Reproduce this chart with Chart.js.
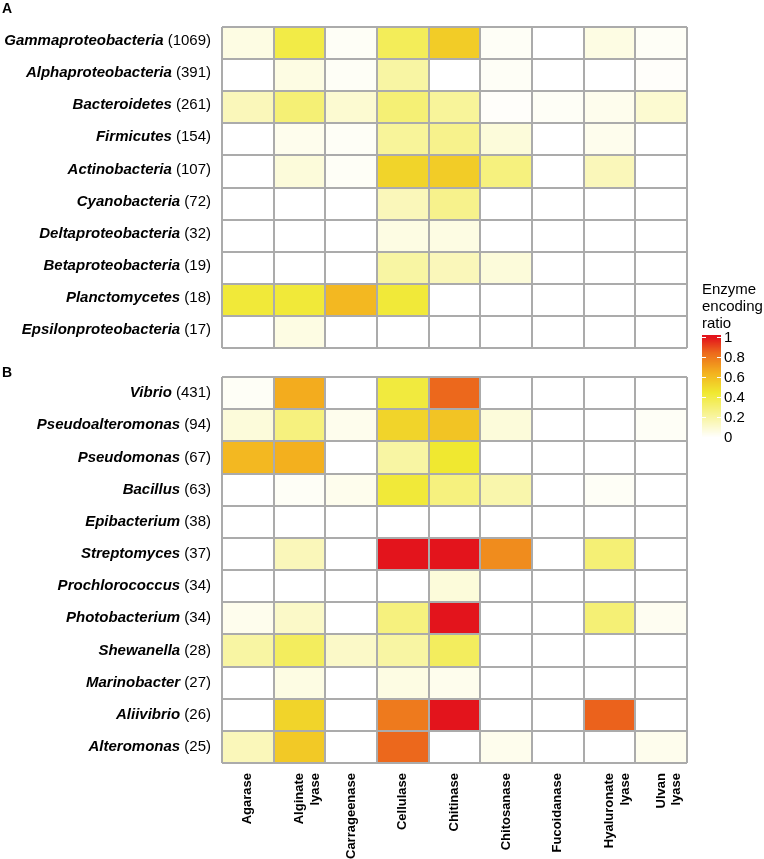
<!DOCTYPE html>
<html>
<head>
<meta charset="utf-8">
<script src="https://cdn.jsdelivr.net/npm/chart.js@4.4.1/dist/chart.umd.min.js"></script>
<style>
  body { margin: 0; background: #fff; }
  #wrap { position: relative; width: 764px; height: 859px; }
  canvas { position: absolute; left: 0; }
  #chartA { top: 0; }
  #chartB { top: 250px; }
</style>
</head>
<body>
<div id="wrap">
  <canvas id="chartB" width="764" height="609"></canvas>
  <canvas id="chartA" width="764" height="360"></canvas>
</div>
<script>
// enzyme columns (same for both panels)
var enzymes = ["Agarase", ["Alginate", "lyase"], "Carrageenase", "Cellulase", "Chitinase",
  "Chitosanase", "Fucoidanase", ["Hyaluronate", "lyase"], ["Ulvan", "lyase"]];

// panel A: phyla / classes
var phyla = ["Gammaproteobacteria", "Alphaproteobacteria", "Bacteroidetes", "Firmicutes",
  "Actinobacteria", "Cyanobacteria", "Deltaproteobacteria", "Betaproteobacteria",
  "Planctomycetes", "Epsilonproteobacteria"];
var phylaCounts = [1069, 391, 261, 154, 107, 72, 32, 19, 18, 17];
var phylaRatios = [
  [0.06, 0.40, 0.02, 0.36, 0.55, 0.02, 0, 0.06, 0.02],
  [0, 0.06, 0.02, 0.20, 0, 0.02, 0, 0, 0.01],
  [0.15, 0.30, 0.10, 0.30, 0.22, 0.01, 0.02, 0.04, 0.10],
  [0, 0.04, 0.02, 0.22, 0.25, 0.08, 0, 0.04, 0],
  [0, 0.08, 0.02, 0.52, 0.55, 0.28, 0, 0.15, 0],
  [0, 0, 0, 0.15, 0.25, 0, 0, 0, 0],
  [0, 0, 0, 0.06, 0.06, 0, 0, 0, 0],
  [0, 0, 0, 0.20, 0.15, 0.08, 0, 0, 0],
  [0.43, 0.43, 0.62, 0.43, 0, 0, 0, 0, 0],
  [0, 0.06, 0, 0, 0, 0, 0, 0, 0]
];

// panel B: genera
var genera = ["Vibrio", "Pseudoalteromonas", "Pseudomonas", "Bacillus", "Epibacterium",
  "Streptomyces", "Prochlorococcus", "Photobacterium", "Shewanella", "Marinobacter",
  "Aliivibrio", "Alteromonas"];
var generaCounts = [431, 94, 67, 63, 38, 37, 34, 34, 28, 27, 26, 25];
var generaRatios = [
  [0.02, 0.66, 0, 0.42, 0.85, 0, 0, 0, 0],
  [0.08, 0.28, 0.04, 0.52, 0.58, 0.08, 0, 0, 0.02],
  [0.62, 0.65, 0, 0.20, 0.45, 0, 0, 0, 0],
  [0, 0.02, 0.04, 0.43, 0.28, 0.18, 0, 0.02, 0],
  [0, 0, 0, 0, 0, 0, 0, 0, 0],
  [0, 0.15, 0, 1, 1, 0.75, 0, 0.30, 0],
  [0, 0, 0, 0, 0.08, 0, 0, 0, 0],
  [0.04, 0.12, 0, 0.28, 1, 0, 0, 0.30, 0.03],
  [0.20, 0.35, 0.12, 0.20, 0.35, 0, 0, 0, 0],
  [0, 0.06, 0, 0.06, 0.04, 0, 0, 0, 0],
  [0, 0.52, 0, 0.80, 1, 0, 0, 0.86, 0],
  [0.15, 0.56, 0, 0.85, 0, 0.04, 0, 0, 0.04]
];

var legendTicks = [0, 0.2, 0.4, 0.6, 0.8, 1];

var colorStops = [
  [0, [255, 255, 255]],
  [0.45, [240, 232, 48]],
  [0.65, [243, 176, 30]],
  [0.85, [236, 104, 28]],
  [1, [227, 20, 28]]
];

function ratioColor(v) {
  for (var k = 1; k < colorStops.length; k++) {
    if (v <= colorStops[k][0]) {
      var a = colorStops[k - 1], b = colorStops[k];
      var t = (v - a[0]) / (b[0] - a[0]);
      var c = a[1].map(function (x, i) { return Math.round(x + (b[1][i] - x) * t); });
      return 'rgb(' + c.join(',') + ')';
    }
  }
  return 'rgb(227,20,28)';
}

var gridColor = '#ababab';
var fontFam = '"Liberation Sans", Arial, Helvetica, sans-serif';

// row labels: bold italic name + plain count
var rowLabels = {
  id: 'rowLabels',
  afterDraw: function (chart, args, opts) {
    var ctx = chart.ctx;
    var y = chart.scales.y;
    var xr = chart.chartArea.left - 11;
    ctx.save();
    ctx.fillStyle = '#000';
    ctx.textBaseline = 'middle';
    ctx.textAlign = 'right';
    opts.names.forEach(function (name, i) {
      var py = y.getPixelForValue(i + 0.5) + opts.shift;
      var cnt = ' (' + opts.counts[i] + ')';
      ctx.font = '15px ' + fontFam;
      ctx.fillText(cnt, xr, py);
      var w = ctx.measureText(cnt).width;
      ctx.font = 'italic bold 15px ' + fontFam;
      ctx.fillText(name, xr - w, py);
    });
    ctx.font = 'bold 14px ' + fontFam;
    ctx.textAlign = 'left';
    ctx.textBaseline = 'alphabetic';
    ctx.fillText(opts.letter, 2, opts.letterY);
    ctx.restore();
  }
};

// colour bar legend
var colorBar = {
  id: 'colorBar',
  afterDraw: function (chart) {
    var ctx = chart.ctx;
    var x0 = 702, w = 19, top = 85, bottom = 190; // canvas B coords
    var y1 = 87, y0 = 187;
    ctx.save();
    ctx.fillStyle = '#000';
    ctx.font = '15px ' + fontFam;
    ctx.textAlign = 'left';
    ctx.fillText('Enzyme', x0, 44);
    ctx.fillText('encoding', x0, 61);
    ctx.fillText('ratio', x0, 78);
    for (var py = top; py < bottom; py++) {
      var v = Math.min(1, Math.max(0, (y0 - py) / (y0 - y1)));
      ctx.fillStyle = ratioColor(v);
      ctx.fillRect(x0, py, w, 1);
    }
    ctx.strokeStyle = '#fff';
    ctx.lineWidth = 1;
    ctx.fillStyle = '#000';
    ctx.textBaseline = 'middle';
    legendTicks.forEach(function (t) {
      var py = Math.round(y0 - t * (y0 - y1)) + 0.5;
      ctx.beginPath();
      ctx.moveTo(x0, py); ctx.lineTo(x0 + 4, py);
      ctx.moveTo(x0 + w - 4, py); ctx.lineTo(x0 + w, py);
      ctx.stroke();
      ctx.fillText(String(t), x0 + w + 3, py);
    });
    ctx.restore();
  }
};

function makeChart(id, names, counts, ratios, opts) {
  var datasets = names.map(function (n, i) {
    return {
      label: n,
      data: enzymes.map(function () { return [i, i + 1]; }),
      backgroundColor: ratios[i].map(ratioColor),
      borderWidth: 0,
      grouped: false,
      barPercentage: 1,
      categoryPercentage: 1
    };
  });
  return new Chart(document.getElementById(id), {
    type: 'bar',
    data: { labels: enzymes, datasets: datasets },
    plugins: opts.plugins,
    options: {
      responsive: false,
      animation: false,
      layout: { padding: opts.padding },
      plugins: {
        legend: { display: false },
        tooltip: { enabled: false },
        rowLabels: { names: names, counts: counts, letter: opts.letter, letterY: opts.letterY, shift: opts.shift }
      },
      scales: {
        x: {
          type: 'category',
          offset: true,
          grid: { offset: true, color: gridColor, lineWidth: 2, drawTicks: false, z: 1 },
          border: { display: false },
          ticks: {
            display: opts.showX,
            color: '#000',
            font: { family: fontFam, size: 13, weight: 'bold' },
            minRotation: 90, maxRotation: 90,
            padding: 10,
            autoSkip: false
          },
          afterFit: function (s) { s.height = opts.showX ? 96 : 0; }
        },
        y: {
          type: 'linear',
          min: 0, max: names.length,
          reverse: true,
          grid: { color: gridColor, lineWidth: 2, drawTicks: false, z: 1 },
          border: { display: false },
          ticks: { display: false, stepSize: 1 },
          afterFit: function (s) { s.width = 0; }
        }
      }
    }
  });
}

makeChart('chartA', phyla, phylaCounts, phylaRatios, {
  padding: { left: 222, right: 77, top: 27, bottom: 12 },
  showX: false, letter: 'A', letterY: 13, shift: -2,
  plugins: [rowLabels]
});
makeChart('chartB', genera, generaCounts, generaRatios, {
  padding: { left: 222, right: 77, top: 127, bottom: 0 },
  showX: true, letter: 'B', letterY: 127, shift: 0,
  plugins: [rowLabels, colorBar]
});
</script>
</body>
</html>
